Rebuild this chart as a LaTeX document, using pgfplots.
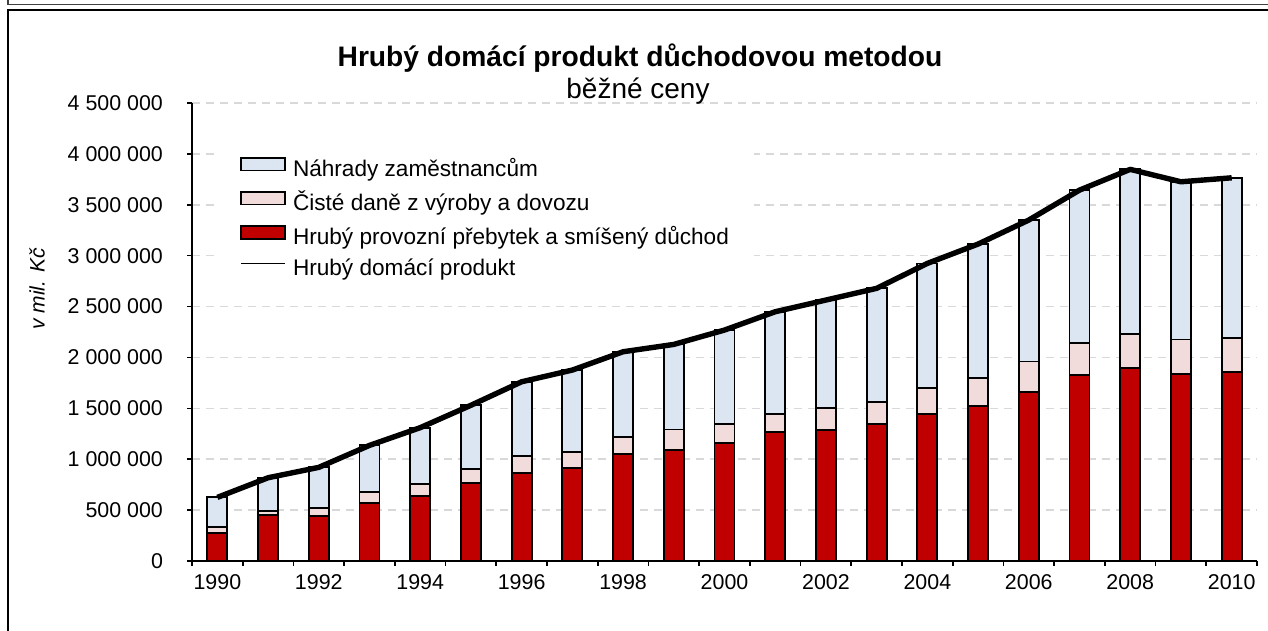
\documentclass[border=0pt]{standalone}
\usepackage{fontspec}
\setmainfont{Liberation Sans}
\usepackage{pgfplots}
\usepackage{pgfplotstable}
\pgfplotsset{compat=1.18}
\definecolor{cRed}{HTML}{C00000}
\definecolor{cPink}{HTML}{F2DCDB}
\definecolor{cBlue}{HTML}{DCE6F2}
\definecolor{cGrid}{HTML}{D9D9D9}
\pgfplotstableread{
x red pink blue gdp
0 272000 62000 291000 625000
1 449000 42000 327000 818000
2 445000 79000 396000 920000
3 567000 114000 455000 1136000
4 642000 114000 554000 1310000
5 763000 138000 629000 1530000
6 861000 170000 730000 1761000
7 917000 157000 802000 1876000
8 1054000 161000 841000 2056000
9 1093000 200000 835000 2128000
10 1156000 190000 923000 2269000
11 1270000 174000 1005000 2449000
12 1287000 219000 1058000 2564000
13 1346000 216000 1117000 2679000
14 1448000 254000 1222000 2924000
15 1526000 274000 1314000 3114000
16 1663000 298000 1389000 3350000
17 1824000 314000 1506000 3644000
18 1899000 334000 1615000 3848000
19 1840000 337000 1549000 3726000
20 1860000 333000 1572000 3765000
}\gdpdata
\begin{document}
\begin{tikzpicture}[x=1pt,y=1pt]
\useasboundingbox (0,0) rectangle (634,315.5);
% frame
\draw[black!75, line width=0.8pt] (4.1,315.5) -- (4.1,313.3) -- (634,313.3);
\draw[black, line width=1.1pt] (4.1,0) -- (4.1,310.3) -- (634,310.3);
\begin{axis}[
  at={(96pt,35pt)}, anchor=south west, scale only axis,
  width=532.5pt, height=229pt,
  xmin=-0.5, xmax=20.5, ymin=0, ymax=4500000,
  ybar stacked, bar width=10pt,
  axis x line*=bottom, axis y line*=left,
  axis line style={-, line width=1pt, black},
  tick align=outside, major tick length=2.5pt,
  tick style={black, line width=0.8pt},
  xtick={-0.5,0.5,...,20.5}, xticklabels={},
  extra x ticks={0,2,...,20},
  extra x tick labels={1990,1992,1994,1996,1998,2000,2002,2004,2006,2008,2010},
  extra x tick style={major tick length=0pt},
  ytick={0,500000,...,4500000},
  scaled y ticks=false,
  /pgf/number format/fixed,
  /pgf/number format/1000 sep={\ },
  /pgf/number format/assume math mode=true,
  ticklabel style={font=\fontsize{10.7}{12}\selectfont},
  xticklabel style={yshift=-3pt},
  yticklabel style={xshift=-8.5pt},
  ymajorgrids,
  y grid style={cGrid, line width=0.75pt, dash pattern=on 4pt off 3pt},
]
\addplot[fill=cRed, draw=black, line width=0.9pt] table[x=x,y=red]{\gdpdata};
\addplot[fill=cPink, draw=black, line width=0.9pt] table[x=x,y=pink]{\gdpdata};
\addplot[fill=cBlue, draw=black, line width=0.9pt] table[x=x,y=blue]{\gdpdata};
\end{axis}
\begin{axis}[
  at={(96pt,35pt)}, anchor=south west, scale only axis,
  width=532.5pt, height=229pt,
  xmin=-0.5, xmax=20.5, ymin=0, ymax=4500000,
  hide axis,
  legend style={at={(axis description cs:0.0216,0.905)}, anchor=north west,
    draw=none, fill=white, inner xsep=12.5pt, inner ysep=5pt,
    font=\fontsize{11.3}{13}\selectfont, row sep=5pt, column sep=3.5pt,
    nodes={inner sep=0pt, text height=8pt, text depth=2.5pt}},
  legend cell align=left,
]
\addplot[black, line width=2.7pt, line join=round, forget plot] table[x=x,y=gdp]{\gdpdata};
\addlegendimage{legend image code/.code={\draw[fill=cBlue,draw=black,line width=0.8pt] (0pt,0pt) rectangle (22pt,6.4pt);}}
\addlegendentry{Náhrady zaměstnancům}
\addlegendimage{legend image code/.code={\draw[fill=cPink,draw=black,line width=0.8pt] (0pt,0pt) rectangle (22pt,6.4pt);}}
\addlegendentry{Čisté daně z výroby a dovozu}
\addlegendimage{legend image code/.code={\draw[fill=cRed,draw=black,line width=0.8pt] (0pt,0pt) rectangle (22pt,6.4pt);}}
\addlegendentry{Hrubý provozní přebytek a smíšený důchod}
\addlegendimage{legend image code/.code={\draw[black,line width=0.6pt] (0pt,3.2pt) -- (22pt,3.2pt);}}
\addlegendentry{Hrubý domácí produkt}
\end{axis}
\node[anchor=base, font=\bfseries\fontsize{14.1}{16}\selectfont] at (320,282) {Hrubý domácí produkt důchodovou metodou};
\node[anchor=base, font=\fontsize{14}{16}\selectfont] at (319,266) {běžné ceny};
\node[rotate=90, font=\itshape\fontsize{10.5}{12}\selectfont] at (18.5,171) {v mil. Kč};
\end{tikzpicture}
\end{document}
